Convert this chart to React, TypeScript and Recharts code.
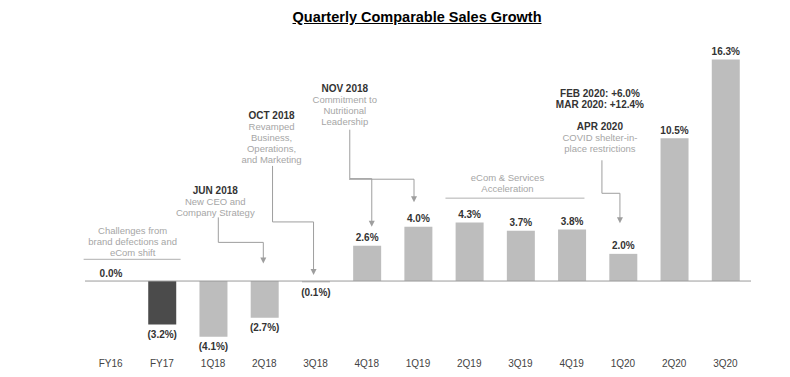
import React from 'react';
import { BarChart, Bar, XAxis, YAxis, Cell, LabelList, ReferenceLine, ReferenceDot } from 'recharts';

// quarterly comparable sales growth, %
const periods = ['FY16', 'FY17', '1Q18', '2Q18', '3Q18', '4Q18', '1Q19', '2Q19', '3Q19', '4Q19', '1Q20', '2Q20', '3Q20'];
const growth = [0.0, -3.2, -4.1, -2.7, -0.1, 2.6, 4.0, 4.3, 3.7, 3.8, 2.0, 10.5, 16.3];
const darkPeriods = ['FY17'];

const challengesText = ['Challenges from', 'brand defections and', 'eCom shift'];
const junText = ['New CEO and', 'Company Strategy'];
const octText = ['Revamped', 'Business,', 'Operations,', 'and Marketing'];
const novText = ['Commitment to', 'Nutritional', 'Leadership'];
const ecomText = ['eCom & Services', 'Acceleration'];
const aprLead = ['FEB 2020: +6.0%', 'MAR 2020: +12.4%'];
const aprText = ['COVID shelter-in-', 'place restrictions'];

const data = periods.map((p, i) => ({ period: p, growth: growth[i] }));

const FONT = '"Liberation Sans", Arial, Helvetica, sans-serif';
const GREY_TXT = '#a6a6a6';
const DARK_TXT = '#333';
const LINE = '#9e9e9e';
const LH = 11;

type Row = { t: string; bold?: boolean; gap?: number };

const rowsOf = (head: string[], title: string | null, body: string[], gap = 0): Row[] => [
  ...head.map((t) => ({ t, bold: true })),
  ...(title ? [{ t: title, bold: true, gap: head.length ? gap : 0 }] : []),
  ...body.map((t) => ({ t })),
];

const TextBlock = ({ x, y, rows }: { x: number; y: number; rows: Row[] }) => {
  let cy = y;
  return (
    <g>
      {rows.map((r, i) => {
        if (i > 0) cy += LH + (r.gap || 0);
        return (
          <text
            key={i}
            x={x}
            y={cy}
            textAnchor="middle"
            dominantBaseline="central"
            fontSize={r.bold ? 10 : 9.5}
            fontWeight={r.bold ? 700 : 400}
            fill={r.bold ? DARK_TXT : GREY_TXT}
            fontFamily={FONT}
          >
            {r.t}
          </text>
        );
      })}
    </g>
  );
};

// elbow connector with arrow head pointing down at (cx + adx, cy)
const callout = (o: {
  rows?: Row[]; tdx?: number; tdy?: number;
  sdx: number; sdy: number; edy: number; adx: number;
}) => (p: any) => {
  const { cx, cy } = p;
  const ax = cx + o.adx;
  return (
    <g>
      {o.rows && <TextBlock x={cx + (o.tdx || 0)} y={cy + (o.tdy || 0)} rows={o.rows} />}
      <path
        d={`M${cx + o.sdx},${cy + o.sdy}V${cy + o.edy}H${ax}V${cy - 5}`}
        fill="none"
        stroke={LINE}
        strokeWidth={1}
      />
      <path d={`M${ax - 3},${cy - 6}L${ax + 3},${cy - 6}L${ax},${cy}Z`} fill={LINE} />
    </g>
  );
};

// bracket line with text above
const bracket = (o: { rows: Row[]; tdx: number; tdy: number; x0: number; x1: number }) => (p: any) => {
  const { cx, cy } = p;
  return (
    <g>
      <TextBlock x={cx + o.tdx} y={cy + o.tdy} rows={o.rows} />
      <line x1={cx + o.x0} x2={cx + o.x1} y1={cy} y2={cy} stroke="#b0b0b0" strokeWidth={1} />
    </g>
  );
};

const ValueLabel = (props: any) => {
  const { x, y, width, height, value } = props;
  if (value == null) return null;
  const v = Number(value);
  const top = Math.min(y, y + height);
  const bottom = Math.max(y, y + height);
  const neg = v < 0;
  const txt = neg ? `(${Math.abs(v).toFixed(1)}%)` : `${v.toFixed(1)}%`;
  return (
    <text
      x={x + width / 2}
      y={neg ? bottom + 10 : top - 8}
      textAnchor="middle"
      dominantBaseline="central"
      fontSize={10}
      fontWeight={700}
      fill={DARK_TXT}
      fontFamily={FONT}
    >
      {txt}
    </text>
  );
};

export default function App() {
  return (
    <div style={{ position: 'absolute', left: 0, top: 0, width: 790, height: 377, background: '#fff', fontFamily: FONT }}>
      <div
        style={{
          position: 'absolute',
          top: 9,
          left: 0,
          width: 790,
          paddingLeft: 44,
          boxSizing: 'border-box',
          textAlign: 'center',
          fontSize: 14.5,
          lineHeight: '16px',
          fontWeight: 700,
          textDecoration: 'underline',
          color: '#000',
        }}
      >
        Quarterly Comparable Sales Growth
      </div>
      <BarChart width={790} height={377} data={data} margin={{ top: 50, right: 39, bottom: 0, left: 85 }}>
        <XAxis
          dataKey="period"
          axisLine={false}
          tickLine={false}
          tickSize={0}
          tickMargin={11}
          height={28}
          interval={0}
          tick={{ fontSize: 10, fill: '#444', fontFamily: FONT }}
        />
        <YAxis hide domain={[-5, 17]} />
        <Bar
          dataKey="growth"
          barSize={28}
          isAnimationActive={false}
          minPointSize={(v: number) => (v === 0 ? 0.01 : 0)}
        >
          {data.map((d) => (
            <Cell key={d.period} fill={darkPeriods.includes(d.period) ? '#4b4b4b' : '#bdbdbd'} />
          ))}
          <LabelList dataKey="growth" content={ValueLabel} />
        </Bar>
        <ReferenceLine y={0} stroke="#9a9a9a" strokeWidth={1} />

        <ReferenceDot
          x="FY16" y={1.6} r={0}
          shape={bracket({ rows: rowsOf([], null, challengesText), tdx: 22, tdy: -29, x0: -27, x1: 70 })}
        />
        <ReferenceDot
          x="2Q18" y={1.3} r={0}
          shape={callout({ rows: rowsOf([], 'JUN 2018', junText), tdx: -49, tdy: -73, sdx: -46, sdy: -46, edy: -21, adx: -1 })}
        />
        <ReferenceDot
          x="3Q18" y={0.45} r={0}
          shape={callout({ rows: rowsOf([], 'OCT 2018', octText), tdx: -44, tdy: -159, sdx: -43, sdy: -109, edy: -53, adx: -2 })}
        />
        <ReferenceDot
          x="4Q18" y={4.0} r={0}
          shape={callout({ rows: rowsOf([], 'NOV 2018', novText), tdx: -22, tdy: -138, sdx: -17, sdy: -97, edy: -48, adx: 5 })}
        />
        <ReferenceDot
          x="1Q19" y={5.8} r={0}
          shape={callout({ sdx: -69, sdy: -23, edy: -23, adx: -4 })}
        />
        <ReferenceDot
          x="3Q19" y={6.1} r={0}
          shape={bracket({ rows: rowsOf([], null, ecomText), tdx: -13, tdy: -21, x0: -75, x1: 64 })}
        />
        <ReferenceDot
          x="1Q20" y={4.25} r={0}
          shape={callout({ rows: rowsOf(aprLead, 'APR 2020', aprText, 11), tdx: -23, tdy: -130, sdx: -21, sdy: -63, edy: -30, adx: -3 })}
        />
      </BarChart>
    </div>
  );
}
